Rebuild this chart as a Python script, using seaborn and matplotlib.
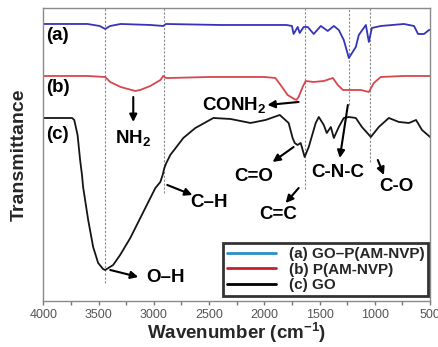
import numpy as np
import pandas as pd
import matplotlib
matplotlib.use("Agg")
import matplotlib.pyplot as plt
from matplotlib.lines import Line2D
from matplotlib.ticker import MultipleLocator
import seaborn as sns

# FTIR spectra (transmittance in arbitrary units)
wn_a = [4000, 3600, 3490, 3440, 3395, 3300, 3030, 2915, 2890, 2400, 2030, 1800, 1750,
        1735, 1698, 1680, 1644, 1607, 1553, 1489, 1426, 1371, 1326, 1281, 1235, 1172,
        1145, 1081, 1054, 1027, 946, 737, 645, 609, 555, 509, 500]
t_a = [277, 277, 275, 272, 275, 277, 276, 275, 277, 276, 276, 276, 275,
       267, 274, 268, 274, 274, 267, 275, 270, 275, 271, 261, 243, 254,
       266, 276, 259, 273, 275, 277, 275, 267, 267, 271, 271]

wn_b = [4000, 3600, 3440, 3395, 3300, 3168, 3123, 3032, 2940, 2915, 2890, 2851, 2500,
        2000, 1900, 1853, 1789, 1730, 1710, 1690, 1653, 1626, 1553, 1462, 1380, 1335,
        1289, 1217, 1126, 1054, 1009, 946, 737, 500]
t_b = [225, 225, 224, 219, 214, 210, 211, 215, 221, 225, 223, 223, 224,
       224, 223, 216, 206, 202, 201, 204, 214, 220, 219, 220, 223, 216,
       211, 211, 211, 209, 218, 224, 225, 225]

wn_c = [4000, 3800, 3740, 3720, 3690, 3667, 3649, 3640, 3594, 3549, 3504, 3459, 3440,
        3368, 3305, 3213, 3095, 2986, 2941, 2920, 2905, 2887, 2851, 2733, 2624, 2461,
        2306, 2125, 1989, 1860, 1780, 1744, 1725, 1700, 1671, 1635, 1598, 1535, 1507,
        1462, 1435, 1398, 1371, 1326, 1281, 1235, 1172, 1117, 1036, 964, 873, 782,
        691, 627, 573, 500]
t_c = [183, 183, 183, 181, 166, 141, 125, 114, 81, 54, 38, 32, 31,
       36, 46, 63, 89, 113, 119, 126, 133, 138, 146, 163, 173, 183,
       182, 178, 181, 186, 178, 163, 158, 156, 158, 144, 154, 178, 184,
       176, 168, 174, 163, 174, 183, 184, 183, 174, 164, 174, 183, 179,
       178, 181, 171, 164]

labels = ["(a) GO\u2013P(AM-NVP)", "(b) P(AM-NVP)", "(c) GO"]
line_colors = ["#3434b8", "#d8464e", "#151515"]
legend_colors = ["#2a8fc8", "#c8202a", "#000000"]

# marker positions (wavenumber, lower end of dotted line)
peak_wn = [3445, 2910, 1634, 1235, 1045]
peak_low = [18, 108, 112, 196, 139]

sns.set_theme(style="ticks")
plt.rcParams["font.family"] = ["Liberation Sans", "DejaVu Sans"]
plt.rcParams["mathtext.fontset"] = "custom"
plt.rcParams["mathtext.bf"] = "Liberation Sans:bold"
plt.rcParams["mathtext.rm"] = "Liberation Sans:bold"
plt.rcParams["mathtext.default"] = "bf"

fig = plt.figure(figsize=(4.38, 3.47), dpi=100)
ax = fig.add_axes([0.0989, 0.1326, 0.883, 0.8444])

for wn, t, c in zip([wn_a, wn_b, wn_c], [t_a, t_b, t_c], line_colors):
    df = pd.DataFrame({"wn": wn, "t": t})
    sns.lineplot(data=df, x="wn", y="t", color=c, lw=1.3, ax=ax, errorbar=None)

for w, lo in zip(peak_wn, peak_low):
    ax.vlines(w, lo, 293, colors="#8a8a8a", linestyles=(0, (2, 1.5)), lw=0.8, zorder=1)

ax.set_xlim(4000, 500)
ax.set_ylim(0, 293)
ax.set_yticks([])
ax.xaxis.set_major_locator(MultipleLocator(500))
ax.xaxis.set_minor_locator(MultipleLocator(250))
ax.tick_params(axis="x", which="both", direction="out", length=3, width=1,
               colors="#777777", labelsize=9, pad=3)
ax.tick_params(axis="x", labelcolor="#555555")
for s in ax.spines.values():
    s.set_color("#8a8a8a")
    s.set_linewidth(1)

ax.set_xlabel("Wavenumber (cm$^{-1}$)", fontsize=13.5, fontweight="bold", labelpad=0)
ax.set_ylabel("Transmittance", fontsize=14, fontweight="bold", labelpad=11)

tk = dict(fontsize=13.5, fontweight="bold", color="black")
ax.text(3975, 265, "(a)", ha="left", va="center", **tk)
ax.text(3975, 213, "(b)", ha="left", va="center", **tk)
ax.text(3975, 166, "(c)", ha="left", va="center", **tk)

arrow = dict(arrowstyle="-|>", color="black", lw=1.5, mutation_scale=11,
             shrinkA=0, shrinkB=0)
ann = [
    ("NH$_2$", (3186, 163), (3186, 204), (3186, 179)),
    ("CONH$_2$", (2277, 196), (1690, 199), (1972, 196)),
    ("C=O", (2096, 124), (1735, 154), (1925, 139)),
    ("C\u2013H", (2505, 98), (2878, 116), (2651, 106)),
    ("C=C", (1870, 86), (1689, 113), (1807, 98)),
    ("C-N-C", (1335, 128), (1244, 196), (1317, 143)),
    ("C-O", (809, 114), (973, 141), (918, 126)),
    ("O\u2013H", (2896, 23), (3394, 31), (3141, 24)),
]
for txt, pos, tail, head in ann:
    ax.text(pos[0], pos[1], txt, ha="center", va="center", **tk)
    ax.annotate("", xy=head, xytext=tail, arrowprops=arrow)

handles = [Line2D([], [], color=c, lw=2) for c in legend_colors]
leg = ax.legend(handles, labels, loc="lower right", bbox_to_anchor=(0.995, 0.017),
                borderaxespad=0, fancybox=False, frameon=True, handlelength=3.2,
                handletextpad=0.85, labelspacing=0.1, borderpad=0.25,
                prop={"size": 11, "weight": "bold"})
leg.get_frame().set_edgecolor("black")
leg.get_frame().set_linewidth(2)

fig.savefig("out.png", dpi=100)
